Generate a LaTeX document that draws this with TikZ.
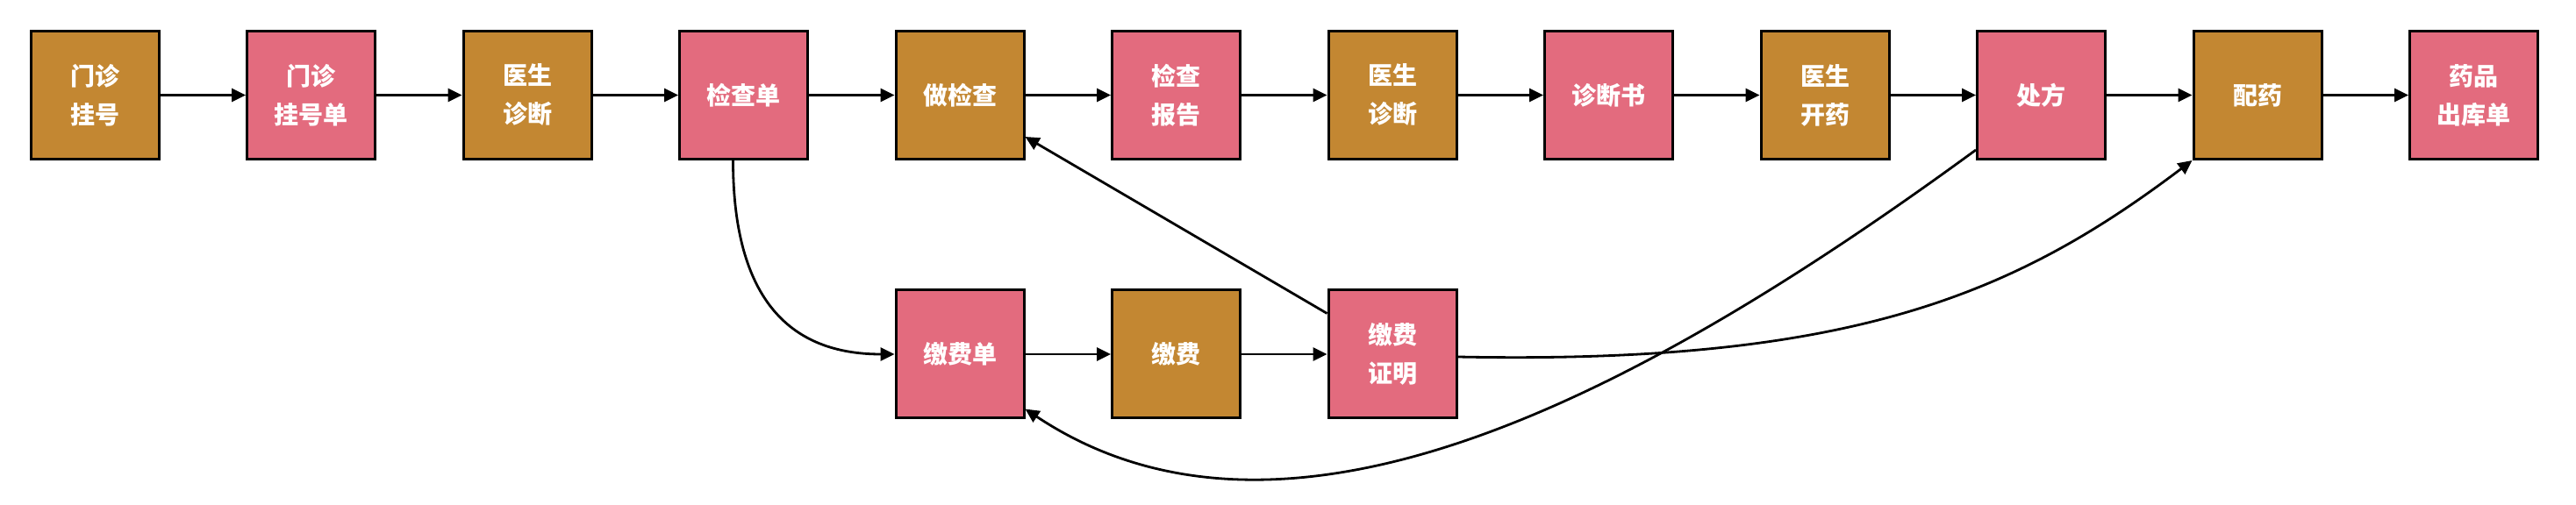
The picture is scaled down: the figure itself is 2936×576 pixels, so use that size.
\documentclass[tikz,border=0pt]{standalone}
\usepackage{fontspec}
\newfontfamily\cjk{Noto Sans CJK SC}
\usetikzlibrary{arrows.meta}
\definecolor{brownbox}{HTML}{C38732}
\definecolor{pinkbox}{HTML}{E36B7E}
\begin{document}
\begin{tikzpicture}[x=0.5pt,y=-0.5pt,
  box/.style={draw=black,line width=1.5pt,minimum width=73pt,minimum height=73pt,
    inner sep=0pt,text=white,align=center,
    font=\cjk\bfseries\fontsize{14pt}{22pt}\selectfont},
  act/.style={box,fill=brownbox},
  doc/.style={box,fill=pinkbox},
  arr/.style={line width=1.4pt,-{Triangle[length=8pt,width=7.5pt]}},
]
\useasboundingbox (0,0) rectangle (2936,576);
% top row
\node[act] (n1)  at (108,108.5)    {门诊\\挂号};
\node[doc] (n2)  at (354.5,108.5)  {门诊\\挂号单};
\node[act] (n3)  at (601,108.5)    {医生\\诊断};
\node[doc] (n4)  at (847.5,108.5)  {检查单};
\node[act] (n5)  at (1094,108.5)   {做检查};
\node[doc] (n6)  at (1340.5,108.5) {检查\\报告};
\node[act] (n7)  at (1587,108.5)   {医生\\诊断};
\node[doc] (n8)  at (1833.5,108.5) {诊断书};
\node[act] (n9)  at (2080,108.5)   {医生\\开药};
\node[doc] (n10) at (2326.5,108.5) {处方};
\node[act] (n11) at (2573,108.5)   {配药};
\node[doc] (n12) at (2819.5,108.5) {药品\\出库单};
% bottom row
\node[doc] (b1) at (1094,404)   {缴费单};
\node[act] (b2) at (1340.5,404) {缴费};
\node[doc] (b3) at (1587,404)   {缴费\\证明};
% straight arrows
\foreach \a/\b in {n1/n2,n2/n3,n3/n4,n4/n5,n5/n6,n6/n7,n7/n8,n8/n9,n9/n10,n10/n11,n11/n12,b1/b2,b2/b3}
  \draw[arr] (\a.east) -- (\b.west);
% curved / diagonal connectors
\draw[arr] ([xshift=-6pt]n4.south) .. controls +(0,180) and +(-100,0) .. (b1.west);
\draw[arr] ([yshift=-14pt]b3.north west) -- ([yshift=13.5pt]n5.south east);
\draw[arr] ([yshift=6pt]n10.south west) .. controls +(-403,295) and +(290,193) .. ([yshift=6pt]b1.south east);
\draw[arr] ([yshift=-1.5pt]b3.east) .. controls +(450,9) and +(-201,152) .. (n11.south west);
\end{tikzpicture}
\end{document}
